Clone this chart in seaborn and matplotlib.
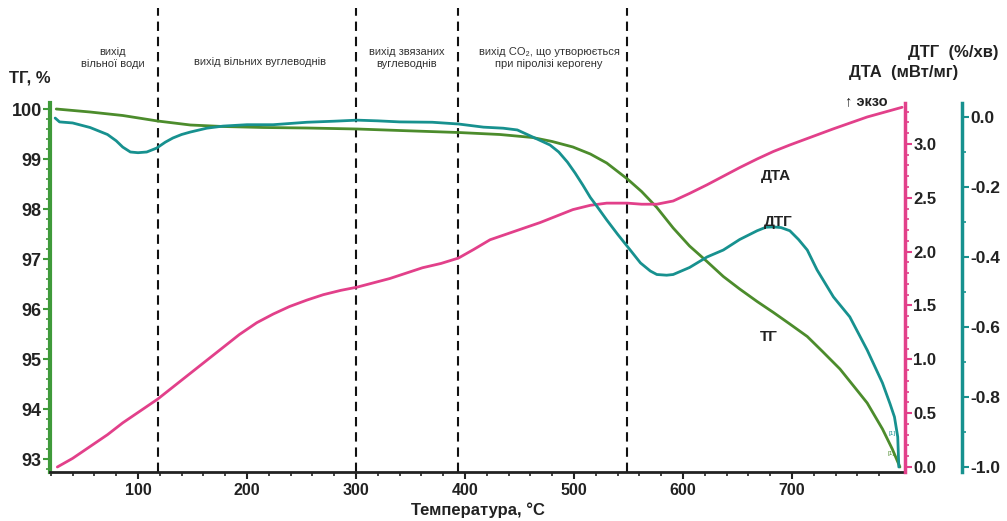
import numpy as np
import pandas as pd
import matplotlib
matplotlib.use("Agg")
import matplotlib.pyplot as plt
from matplotlib.ticker import MultipleLocator, FixedLocator
import seaborn as sns

# ---------------- data ----------------
T_tg = [25, 56, 86, 118, 148, 178, 215, 255, 301, 340, 394, 432, 462, 480, 499, 515,
        530, 549, 562, 576, 591, 606, 622, 637, 652, 668, 683, 698, 714, 728, 744, 758,
        769, 783, 792, 799]
tg = [100.0, 99.94, 99.87, 99.76, 99.68, 99.65, 99.63, 99.62, 99.60, 99.57, 99.53, 99.49,
      99.43, 99.35, 99.24, 99.10, 98.92, 98.60, 98.35, 98.03, 97.62, 97.26, 96.95, 96.65,
      96.40, 96.15, 95.93, 95.70, 95.45, 95.15, 94.80, 94.42, 94.12, 93.60, 93.20, 92.84]

T_dta = [26, 40, 56, 72, 86, 102, 118, 133, 148, 163, 178, 193, 209, 224, 239, 255, 270,
         286, 301, 316, 331, 346, 361, 378, 394, 408, 423, 446, 469, 484, 499, 515, 530,
         549, 562, 576, 591, 606, 622, 637, 652, 668, 683, 698, 714, 738, 769, 801]
dta = [0.00, 0.08, 0.19, 0.30, 0.41, 0.52, 0.63, 0.75, 0.87, 0.99, 1.11, 1.23, 1.34, 1.42,
       1.49, 1.55, 1.60, 1.64, 1.67, 1.71, 1.75, 1.80, 1.85, 1.89, 1.94, 2.02, 2.11, 2.19,
       2.27, 2.33, 2.39, 2.43, 2.45, 2.45, 2.44, 2.44, 2.47, 2.54, 2.62, 2.70, 2.78, 2.86,
       2.93, 2.99, 3.05, 3.14, 3.25, 3.34]

T_dtg = [24, 28, 40, 56, 72, 80, 86, 93, 100, 108, 117, 125, 132, 140, 148, 163, 178, 200,
         224, 255, 280, 301, 320, 340, 370, 394, 417, 435, 448, 462, 478, 486, 494, 501, 508,
         515, 521, 530, 540, 549, 561, 570, 576, 585, 591, 606, 622, 637, 652, 668, 676, 683,
         690, 698, 706, 714, 723, 738, 753, 769, 783, 790, 794, 797, 798]
dtg = [-0.003, -0.014, -0.017, -0.030, -0.050, -0.068, -0.086, -0.100, -0.102, -0.100,
       -0.089, -0.072, -0.060, -0.050, -0.043, -0.032, -0.026, -0.022, -0.022, -0.015,
       -0.012, -0.009, -0.011, -0.014, -0.015, -0.020, -0.029, -0.032, -0.037, -0.057,
       -0.080, -0.100, -0.129, -0.160, -0.194, -0.230, -0.255, -0.294, -0.335, -0.370,
       -0.417, -0.440, -0.450, -0.452, -0.450, -0.430, -0.400, -0.380, -0.350, -0.325,
       -0.315, -0.314, -0.316, -0.325, -0.350, -0.380, -0.437, -0.514, -0.571, -0.666,
       -0.760, -0.820, -0.857, -0.914, -1.000]

boundaries = [118, 300, 394, 549]
x_ticks = [100, 200, 300, 400, 500, 600, 700]
tg_ticks = [93, 94, 95, 96, 97, 98, 99, 100]
dta_ticks = [0.0, 0.5, 1.0, 1.5, 2.0, 2.5, 3.0]
dtg_ticks = [0.0, -0.2, -0.4, -0.6, -0.8, -1.0]

zone_labels = ["вихід\nвільної води", "вихід вільних вуглеводнів",
               "вихід звязаних\nвуглеводнів", "вихід CO₂, що утворюється\nпри піролізі керогену"]

# ---------------- style ----------------
sns.set_style("ticks")
plt.rcParams['font.family'] = ['Liberation Sans', 'DejaVu Sans']

GREEN = '#4c8c2c'
GREEN_AX = '#3f9a3a'
TEAL = '#17918f'
PINK = '#e2408a'

W, H = 1007, 521
fig = plt.figure(figsize=(W / 100, H / 100), dpi=100)
L, R, B, Tp = 50, 905, 472, 103
ax = fig.add_axes([L / W, 1 - B / H, (R - L) / W, (B - Tp) / H])
ax2 = ax.twinx()
ax3 = ax.twinx()

df_tg = pd.DataFrame({"T": T_tg, "v": tg})
df_dta = pd.DataFrame({"T": T_dta, "v": dta})
df_dtg = pd.DataFrame({"T": T_dtg, "v": dtg})

sns.lineplot(data=df_tg, x="T", y="v", ax=ax, color=GREEN, lw=2.0, sort=False)
sns.lineplot(data=df_dta, x="T", y="v", ax=ax2, color=PINK, lw=2.0, sort=False)
sns.lineplot(data=df_dtg, x="T", y="v", ax=ax3, color=TEAL, lw=2.0, sort=False)

x0 = 100 - (138 - L) / 1.09
x1 = 100 + (R - 138) / 1.09
ax.set_xlim(x0, x1)
ax.set_ylim(93 - (B - 459) / 50, 100 + (109 - Tp) / 50)
ax2.set_ylim(-(B - 467) / 107.7, (467 - Tp) / 107.7)
ax3.set_ylim(-(B - 117) / 350, (117 - Tp) / 350)

# dashed boundaries extending above the plot
ytop = (B - 8) / (B - Tp)
for b in boundaries:
    ax.axvline(b, ymin=0, ymax=ytop, clip_on=False, color='#111111', lw=1.5,
               ls=(0, (4.5, 2.8)), zorder=1)

for a in (ax, ax2, ax3):
    a.set_xlabel("")
    a.set_ylabel("")
    for s in a.spines.values():
        s.set_visible(False)

# main axis spines
ax.spines['left'].set_visible(True)
ax.spines['left'].set_color(GREEN_AX)
ax.spines['left'].set_linewidth(3)
ax.spines['bottom'].set_visible(True)
ax.spines['bottom'].set_color('#222222')
ax.spines['bottom'].set_linewidth(2)

ax2.spines['right'].set_visible(True)
ax2.spines['right'].set_color(PINK)
ax2.spines['right'].set_linewidth(2.5)

ax3.spines['right'].set_visible(True)
ax3.spines['right'].set_color(TEAL)
ax3.spines['right'].set_linewidth(2.5)
ax3.spines['right'].set_position(('outward', 57 * 0.72))

ax.xaxis.set_major_locator(FixedLocator(x_ticks))
ax.xaxis.set_minor_locator(FixedLocator([t for t in range(20, 801, 20) if t % 100 != 0]))
ax.set_xticklabels([str(t) for t in x_ticks], fontsize=11.5, fontweight='bold')
ax.tick_params(axis='x', which='major', length=5, width=1.5, color='#222222', pad=3)
ax.tick_params(axis='x', which='minor', length=3, width=1.2, color='#222222')

ax.yaxis.set_major_locator(FixedLocator(tg_ticks))
ax.yaxis.set_minor_locator(MultipleLocator(0.2))
ax.set_yticklabels([str(t) for t in tg_ticks], fontsize=13, fontweight='bold')
ax.tick_params(axis='y', which='major', length=5, width=1.5, color=GREEN_AX, pad=1)
ax.tick_params(axis='y', which='minor', length=3, width=1.2, color=GREEN_AX)

ax2.yaxis.set_major_locator(FixedLocator(dta_ticks))
ax2.yaxis.set_minor_locator(MultipleLocator(0.1))
ax2.set_yticklabels([f"{t:.1f}" for t in dta_ticks], fontsize=12, fontweight='bold')
ax2.tick_params(axis='y', which='major', length=5, width=1.5, color=PINK, pad=1)
ax2.tick_params(axis='y', which='minor', length=3, width=1.2, color=PINK)

ax3.yaxis.set_major_locator(FixedLocator(dtg_ticks))
ax3.yaxis.set_minor_locator(MultipleLocator(0.1))
ax3.set_yticklabels([f"{t:.1f}" for t in dtg_ticks], fontsize=12.5, fontweight='bold')
ax3.tick_params(axis='y', which='major', length=5, width=1.5, color=TEAL, pad=1)
ax3.tick_params(axis='y', which='minor', length=3, width=1.2, color=TEAL)

for a in (ax, ax2, ax3):
    for lbl in a.get_xticklabels() + a.get_yticklabels():
        lbl.set_color('#222222')


def ftext(px, py, s, **kw):
    fig.text(px / W, 1 - py / H, s, **kw)


zone_pos = [(113, 58), (260, 62), (407, 58), (549, 58)]
for (px, py), s in zip(zone_pos, zone_labels):
    ftext(px, py, s, ha='center', va='center', fontsize=8, color='#333333',
          linespacing=1.2)

bold = dict(fontweight='bold', color='#222222')
ftext(30, 78, "ТГ, %", ha='center', va='center', fontsize=12, **bold)
ftext(953, 52, "ДТГ  (%/хв)", ha='center', va='center', fontsize=12, **bold)
ftext(904, 73, "ДТА  (мВт/мг)", ha='center', va='center', fontsize=12, **bold)
ftext(866, 101, "↑ экзо", ha='center', va='center', fontsize=10.5, **bold)
ftext(776, 176, "ДТА", ha='center', va='center', fontsize=11, **bold)
ftext(778, 222, "ДТГ", ha='center', va='center', fontsize=11, **bold)
ftext(769, 337, "ТГ", ha='center', va='center', fontsize=11, **bold)
ftext(478, 502, "Температура, °C", ha='center', va='top', fontsize=12, **bold)
ftext(892, 433, "[1]", ha='center', va='center', fontsize=4.5, color=TEAL)
ftext(891, 453, "[1]", ha='center', va='center', fontsize=4.5, color=GREEN)

fig.savefig("out.png", dpi=100)
